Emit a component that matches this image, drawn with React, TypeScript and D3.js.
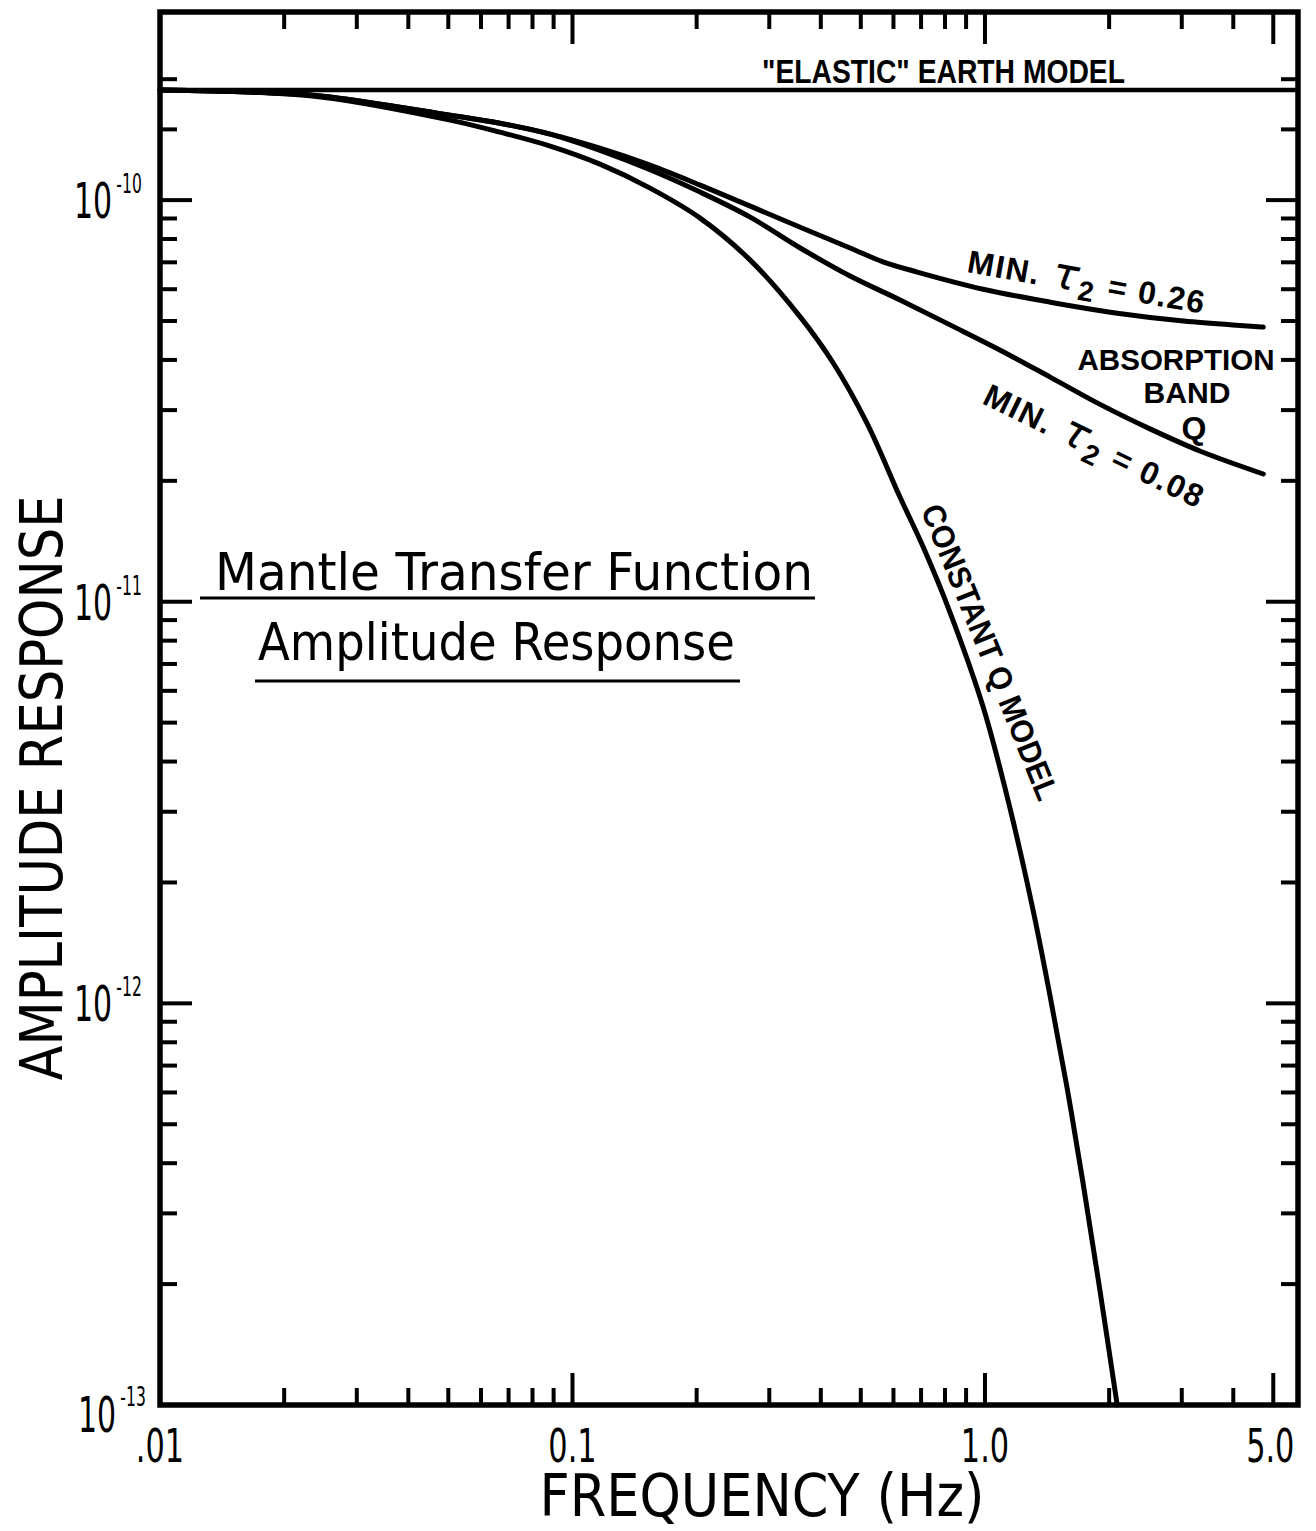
import React from 'react';
import * as d3 from 'd3';

// ---- axis extents ----
const freqDomain = [0.01, 5.74];
const ampDomain = [1e-13, 2.94e-10];

// ---- ticks ----
const freqMajor = [0.1, 1, 5];
const freqMinor = [0.02, 0.03, 0.04, 0.05, 0.06, 0.07, 0.08, 0.09, 0.2, 0.3, 0.4, 0.5, 0.6, 0.7, 0.8, 0.9, 2, 3, 4];
const freqLabelValues = [0.01, 0.1, 1, 5];
const freqLabels = ['.01', '0.1', '1.0', '5.0'];
const ampMajor = [1e-13, 1e-12, 1e-11, 1e-10];
const ampMinor = [
  2e-13, 3e-13, 4e-13, 5e-13, 6e-13, 7e-13, 8e-13, 9e-13,
  2e-12, 3e-12, 4e-12, 5e-12, 6e-12, 7e-12, 8e-12, 9e-12,
  2e-11, 3e-11, 4e-11, 5e-11, 6e-11, 7e-11, 8e-11, 9e-11,
  1.5e-10, 2e-10,
];
const ampExponents = ['-13', '-12', '-11', '-10'];

// ---- series ----
const elasticAmp = 1.88e-10;
const elasticFreq = [0.01, 5.74];

const tau026Freq = [0.01, 0.0165, 0.0248, 0.0505, 0.0667, 0.0883, 0.1166, 0.1542, 0.2039, 0.2697, 0.3565, 0.471, 0.566, 0.685, 0.99, 1.439, 2.093, 3.03, 4.73];
const tau026Amp = [1.88e-10, 1.858e-10, 1.815e-10, 1.627e-10, 1.554e-10, 1.46e-10, 1.347e-10, 1.222e-10, 1.09e-10, 9.66e-11, 8.56e-11, 7.6e-11, 7.02e-11, 6.62e-11, 6.0e-11, 5.57e-11, 5.23e-11, 5.0e-11, 4.83e-11];

const tau008Freq = [0.01, 0.0165, 0.0248, 0.0505, 0.0667, 0.0883, 0.1166, 0.1542, 0.2039, 0.2697, 0.3565, 0.471, 0.6226, 0.823, 1.089, 1.439, 1.901, 2.52, 3.33, 4.73];
const tau008Amp = [1.88e-10, 1.858e-10, 1.815e-10, 1.627e-10, 1.554e-10, 1.46e-10, 1.33e-10, 1.19e-10, 1.047e-10, 9.07e-11, 7.6e-11, 6.47e-11, 5.64e-11, 4.89e-11, 4.23e-11, 3.625e-11, 3.1e-11, 2.69e-11, 2.37e-11, 2.08e-11];

const constQFreq = [0.01, 0.0165, 0.0248, 0.0505, 0.0667, 0.0883, 0.1166, 0.1542, 0.2039, 0.2697, 0.3565, 0.4287, 0.5178, 0.6226, 0.708, 0.823, 0.99, 1.151, 1.309, 1.439, 1.582, 1.729, 1.901, 2.092];
const constQAmp = [1.88e-10, 1.858e-10, 1.804e-10, 1.582e-10, 1.476e-10, 1.363e-10, 1.229e-10, 1.071e-10, 9.02e-11, 7.09e-11, 5.12e-11, 3.93e-11, 2.78e-11, 1.82e-11, 1.37e-11, 9.4e-12, 5.47e-12, 3.05e-12, 1.7e-12, 1.04e-12, 6.15e-13, 3.57e-13, 1.92e-13, 1.0e-13];

const W = 1316;
const H = 1531;
const L = 160, R = 1298, T = 12, B = 1405;
const FONT = '"DejaVu Sans", "Liberation Sans", sans-serif';
const BOLD = '"Liberation Sans", "DejaVu Sans", sans-serif';

export default function App() {
  const x = d3.scaleLog().domain(freqDomain).range([L, R]);
  const y = d3.scaleLog().domain(ampDomain).range([B, T]);
  const line = d3
    .line<[number, number]>()
    .x((d) => x(d[0]))
    .y((d) => y(d[1]))
    .curve(d3.curveCatmullRom.alpha(0.5));
  const zip = (f: number[], a: number[]) => f.map((v, i) => [v, a[i]] as [number, number]);

  const majLen = 32;
  const minLen = 17;
  const tickW = 4;

  return (
    <svg width={W} height={H} viewBox={`0 0 ${W} ${H}`} style={{ position: 'absolute', left: 0, top: 0, background: '#fff' }}>
      <rect x={0} y={0} width={W} height={H} fill="#fff" />
      {/* frame */}
      <rect x={L} y={T} width={R - L} height={B - T} fill="none" stroke="#000" strokeWidth={5.5} />

      {/* x ticks bottom and top */}
      {freqMinor.map((f) => (
        <g key={'fm' + f}>
          <line x1={x(f)} x2={x(f)} y1={B} y2={B - minLen} stroke="#000" strokeWidth={tickW} />
          <line x1={x(f)} x2={x(f)} y1={T} y2={T + minLen} stroke="#000" strokeWidth={tickW} />
        </g>
      ))}
      {freqMajor.map((f) => (
        <g key={'fM' + f}>
          <line x1={x(f)} x2={x(f)} y1={B} y2={B - majLen} stroke="#000" strokeWidth={tickW} />
          <line x1={x(f)} x2={x(f)} y1={T} y2={T + majLen} stroke="#000" strokeWidth={tickW} />
        </g>
      ))}
      {/* y ticks left and right */}
      {ampMinor.map((a) => (
        <g key={'am' + a}>
          <line x1={L} x2={L + minLen} y1={y(a)} y2={y(a)} stroke="#000" strokeWidth={tickW} />
          <line x1={R} x2={R - minLen} y1={y(a)} y2={y(a)} stroke="#000" strokeWidth={tickW} />
        </g>
      ))}
      {ampMajor.slice(1).map((a) => (
        <g key={'aM' + a}>
          <line x1={L} x2={L + majLen} y1={y(a)} y2={y(a)} stroke="#000" strokeWidth={tickW} />
          <line x1={R} x2={R - majLen} y1={y(a)} y2={y(a)} stroke="#000" strokeWidth={tickW} />
        </g>
      ))}

      {/* x tick labels */}
      {freqLabelValues.map((f, i) => (
        <text key={'fl' + f} transform={`translate(${x(f) - (i === 3 ? 3 : 0)},${B + 57}) scale(0.66,1)`} textAnchor="middle" fontFamily={FONT} fontSize={46}>
          {freqLabels[i]}
        </text>
      ))}
      {/* y tick labels: 10 with superscript exponent */}
      {ampMajor.map((a, i) => {
        const yy = y(a);
        const corner = i === 0;
        return (
          <text key={'al' + a} transform={`translate(${corner ? 78 : 74},${yy + (corner ? 27 : 18)}) scale(0.6,1)`} fontFamily={FONT} fontSize={50}>
            10<tspan fontSize={26} dx={7} dy={corner ? -26 : -25}>{ampExponents[i]}</tspan>
          </text>
        );
      })}

      {/* axis titles */}
      <text x={762} y={1516} fontFamily={FONT} fontSize={58} textAnchor="middle" textLength={445} lengthAdjust="spacingAndGlyphs">
        FREQUENCY (Hz)
      </text>
      <text transform="translate(62,788) rotate(-90)" fontFamily={FONT} fontSize={58} textAnchor="middle" textLength={585} lengthAdjust="spacingAndGlyphs">
        AMPLITUDE RESPONSE
      </text>

      {/* curves */}
      <path d={line(zip(elasticFreq, [elasticAmp, elasticAmp])) || ''} fill="none" stroke="#000" strokeWidth={4.5} />
      <path d={line(zip(tau026Freq, tau026Amp)) || ''} fill="none" stroke="#000" strokeWidth={5} strokeLinecap="round" />
      <path d={line(zip(tau008Freq, tau008Amp)) || ''} fill="none" stroke="#000" strokeWidth={5} strokeLinecap="round" />
      <path d={line(zip(constQFreq, constQAmp)) || ''} fill="none" stroke="#000" strokeWidth={5} strokeLinecap="round" />

      {/* annotations */}
      <text x={762} y={83} fontFamily={BOLD} fontWeight="bold" fontSize={33} textLength={363} lengthAdjust="spacingAndGlyphs">
        "ELASTIC" EARTH MODEL
      </text>
      <text transform="translate(966,272) rotate(10)" fontFamily={BOLD} fontWeight="bold" fontSize={32} letterSpacing={1.5}>
        MIN.<tspan dx={12} fontStyle="italic" fontSize={44} fontFamily={FONT} fontWeight="normal">τ</tspan>
        <tspan fontSize={28} dy={8}>2</tspan>
        <tspan dy={-8} dx={12}>= 0.26</tspan>
      </text>
      <text transform="translate(981,403) rotate(26)" fontFamily={BOLD} fontWeight="bold" fontSize={32} letterSpacing={1.5}>
        MIN.<tspan dx={12} fontStyle="italic" fontSize={44} fontFamily={FONT} fontWeight="normal">τ</tspan>
        <tspan fontSize={28} dy={8}>2</tspan>
        <tspan dy={-8} dx={12}>= 0.08</tspan>
      </text>
      <text x={1176} y={370} textAnchor="middle" fontFamily={BOLD} fontWeight="bold" fontSize={29} textLength={197} lengthAdjust="spacingAndGlyphs">ABSORPTION</text>
      <text x={1187} y={403} textAnchor="middle" fontFamily={BOLD} fontWeight="bold" fontSize={29} textLength={87} lengthAdjust="spacingAndGlyphs">BAND</text>
      <text x={1194} y={439} textAnchor="middle" fontFamily={BOLD} fontWeight="bold" fontSize={32}>Q</text>
      <text transform="translate(990,652) rotate(68)" textAnchor="middle" dominantBaseline="central" fontFamily={BOLD} fontWeight="bold" fontSize={32} textLength={316} lengthAdjust="spacingAndGlyphs">
        CONSTANT Q MODEL
      </text>

      {/* inset title */}
      <text x={215} y={590} fontFamily={FONT} fontSize={52} textLength={598} lengthAdjust="spacingAndGlyphs">Mantle Transfer Function</text>
      <line x1={200} x2={815} y1={598} y2={598} stroke="#000" strokeWidth={3} />
      <text x={258} y={660} fontFamily={FONT} fontSize={52} textLength={477} lengthAdjust="spacingAndGlyphs">Amplitude Response</text>
      <line x1={255} x2={740} y1={681} y2={681} stroke="#000" strokeWidth={3} />
    </svg>
  );
}
